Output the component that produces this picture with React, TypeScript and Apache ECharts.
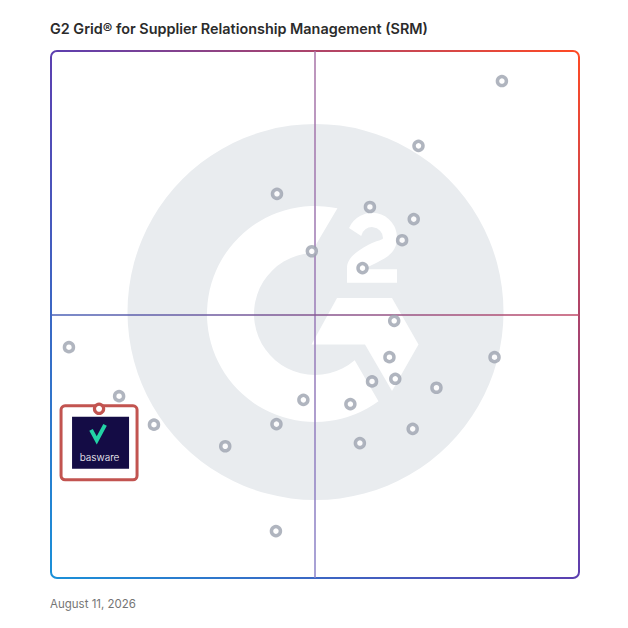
import React, { useEffect, useRef } from "react";
import * as echarts from "echarts";

const TITLE = "G2 Grid® for Supplier Relationship Management (SRM)";
const DATE_LABEL = "August 11, 2026";

// Axis scale (satisfaction on x, market presence on y), quadrant split at the midpoint
const AXIS_MIN = 0;
const AXIS_MAX = 100;
const MIDPOINT = 50;

// Vendor positions
const vendorX = [85.4, 69.6, 42.8, 60.4, 68.7, 66.5, 49.4, 59.0, 65.0, 3.4, 64.1, 84.0, 60.8, 65.2, 73.0, 12.9, 47.8, 56.7, 19.5, 42.7, 68.5, 58.5, 33.0, 42.6];
const vendorY = [94.3, 82.0, 72.9, 70.4, 68.1, 64.1, 62.0, 58.8, 48.8, 43.8, 41.9, 41.9, 37.3, 37.8, 36.1, 34.5, 33.8, 33.0, 29.1, 29.2, 28.3, 25.6, 25.0, 8.9];

// Highlighted vendor
const highlightName = "basware";
const highlightX = [9.1];
const highlightY = [32.1];

// Watermark shapes (decorative G2 logo)
const C_PATH =
  "M 337.45 208.36 A 108 108 0 1 0 378.48 401.37 L 354.7 360.3 A 61 61 0 1 1 311 253.1 Z";
const TWO_PATH =
  "M 349 228 A 25 25 0 0 1 397 238 C 397 250 390 256 378 262 C 370 266 364 269 362 269.3 L 397 269.3 L 397 282.7 L 347 282.7 L 347 268 C 347 258 357 251 368 245 C 378 240 383 240 383 238 A 11 11 0 0 0 361.2 236 Z";
const CHEVRON = [
  [337, 298],
  [392, 298],
  [418.5, 344.5],
  [392, 391],
  [365, 344.5],
  [311.5, 344.5],
];

let registered = false;
function registerShapes() {
  if (registered) return;
  registered = true;
  echarts.graphic.registerShape("g2c", echarts.graphic.extendPath(C_PATH, {}));
  echarts.graphic.registerShape("g2two", echarts.graphic.extendPath(TWO_PATH, {}));
}

export default function App() {
  const ref = useRef<HTMLDivElement>(null);

  useEffect(() => {
    if (!ref.current) return;
    registerShapes();
    const chart = echarts.init(ref.current, null, { renderer: "svg" });

    const borderGradient = new echarts.graphic.LinearGradient(0, 1, 1, 0, [
      { offset: 0, color: "#1a90d8" },
      { offset: 0.5, color: "#5c3fb0" },
      { offset: 1, color: "#ff4a24" },
    ]);
    const vGradient = new echarts.graphic.LinearGradient(
      315, 51, 315, 578,
      [
        { offset: 0, color: "#a873a6" },
        { offset: 1, color: "#8a82c8" },
      ],
      true
    );
    const hGradient = new echarts.graphic.LinearGradient(
      51, 315, 579, 315,
      [
        { offset: 0, color: "#4a62b8" },
        { offset: 1, color: "#c04a68" },
      ],
      true
    );

    const option: any = {
      animation: false,
      title: {
        text: TITLE,
        left: 50,
        top: 21,
        padding: 0,
        textStyle: {
          fontFamily: "Inter",
          fontSize: 14.4,
          fontWeight: 600,
          color: "#2b2b2b",
        },
      },
      grid: { left: 51, top: 51, right: 49, bottom: 50 },
      xAxis: {
        type: "value",
        min: AXIS_MIN,
        max: AXIS_MAX,
        show: false,
      },
      yAxis: {
        type: "value",
        min: AXIS_MIN,
        max: AXIS_MAX,
        show: false,
      },
      graphic: [
        {
          type: "circle",
          shape: { cx: 315.5, cy: 312, r: 188 },
          style: { fill: "#e9ecef" },
          silent: true,
          z: 0,
        },
        { type: "g2c", x: 0, y: 0, style: { fill: "#ffffff" }, silent: true, z: 1 },
        { type: "g2two", x: 0, y: 0, style: { fill: "#ffffff" }, silent: true, z: 1 },
        {
          type: "polygon",
          shape: { points: CHEVRON },
          style: { fill: "#ffffff" },
          silent: true,
          z: 1,
        },
        {
          type: "rect",
          shape: { x: 51, y: 51, width: 528, height: 527, r: 6 },
          style: { fill: "none", stroke: borderGradient, lineWidth: 2 },
          silent: true,
          z: 2,
        },
        {
          type: "text",
          x: 50,
          y: 604,
          style: {
            text: DATE_LABEL,
            font: "11.5px Inter",
            fill: "#757575",
            verticalAlign: "middle",
          },
          silent: true,
        },
      ],
      series: [
        {
          type: "scatter",
          data: vendorX.map((x, i) => [x, vendorY[i]]),
          symbol: "circle",
          symbolSize: 9,
          silent: true,
          z: 3,
          itemStyle: { color: "#ffffff", borderColor: "#9ca3af", borderWidth: 3.5 },
          markLine: {
            silent: true,
            symbol: ["none", "none"],
            label: { show: false },
            z: 2,
            emphasis: { disabled: true },
            data: [
              { xAxis: MIDPOINT, lineStyle: { color: vGradient, width: 1.5, type: "solid" } },
              { yAxis: MIDPOINT, lineStyle: { color: hGradient, width: 1.5, type: "solid" } },
            ],
          },
        },
        {
          type: "custom",
          name: highlightName,
          z: 4,
          clip: false,
          silent: true,
          data: highlightX.map((x, i) => [x, highlightY[i]]),
          renderItem: (_params: any, api: any) => {
            const p = api.coord([api.value(0), api.value(1)]);
            const cx = p[0];
            const cy = p[1];
            return {
              type: "group",
              children: [
                {
                  type: "rect",
                  shape: { x: cx - 38, y: cy - 3, width: 76, height: 74, r: 4 },
                  style: { fill: "#ffffff", stroke: "#c25450", lineWidth: 3 },
                },
                {
                  type: "rect",
                  shape: { x: cx - 27, y: cy + 8, width: 57, height: 52 },
                  style: { fill: "#140c45" },
                },
                {
                  type: "polyline",
                  shape: {
                    points: [
                      [cx - 8, cy + 21],
                      [cx - 2.3, cy + 31.5],
                      [cx + 6, cy + 16],
                    ],
                  },
                  style: { stroke: "#22d3a5", lineWidth: 4, fill: null },
                },
                {
                  type: "text",
                  style: {
                    text: highlightName,
                    x: cx + 0.5,
                    y: cy + 48,
                    fill: "#ffffff",
                    font: "300 10px Inter",
                    align: "center",
                    verticalAlign: "middle",
                  },
                },
                {
                  type: "circle",
                  shape: { cx, cy, r: 4.6 },
                  style: { fill: "#ffffff", stroke: "#c25450", lineWidth: 3.2 },
                },
              ],
            };
          },
        },
      ],
    };

    chart.setOption(option);
    return () => chart.dispose();
  }, []);

  return (
    <div
      ref={ref}
      style={{ position: "fixed", left: 0, top: 0, width: 628, height: 628, background: "#fff" }}
    />
  );
}
